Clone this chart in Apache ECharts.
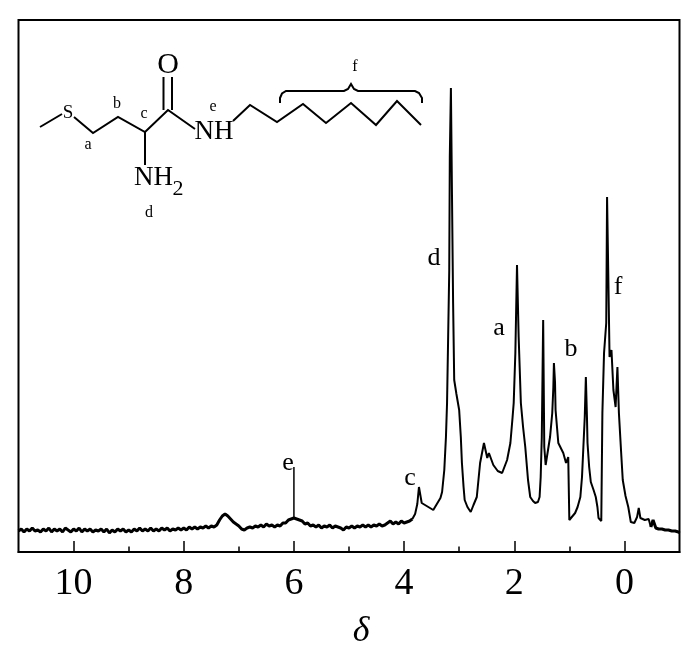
<!DOCTYPE html>
<html>
<head>
<meta charset="utf-8">
<style>
  html, body { margin: 0; padding: 0; background: #fff; }
  #chart { width: 700px; height: 647px; }
</style>
<script src="https://cdn.jsdelivr.net/npm/echarts@6/dist/echarts.min.js"></script>
</head>
<body>
<div id="chart"></div>
<script>
// tick values
var majorTicks = [0, 2, 4, 6, 8, 10]
var minorTicks = [1, 3, 5, 7, 9]

// noisy baseline, high field end of the scale comes later
var baselineShift = [
  11.00, 10.95, 10.90, 10.85, 10.80, 10.75, 10.70, 10.65, 10.60, 10.55,
  10.50, 10.45, 10.40, 10.35, 10.30, 10.25, 10.20, 10.15, 10.10, 10.05,
  10.00, 9.95, 9.90, 9.85, 9.80, 9.75, 9.70, 9.65, 9.60, 9.55,
  9.50, 9.45, 9.40, 9.35, 9.30, 9.25, 9.20, 9.15, 9.10, 9.05,
  9.00, 8.95, 8.90, 8.85, 8.80, 8.75, 8.70, 8.65, 8.60, 8.55,
  8.50, 8.45, 8.40, 8.35, 8.30, 8.25, 8.20, 8.15, 8.10, 8.05,
  8.00, 7.95, 7.90, 7.85, 7.80, 7.75, 7.70, 7.65, 7.60, 7.55,
  7.50, 7.45, 7.40, 7.35, 7.30, 7.25, 7.20, 7.15, 7.10, 7.05,
  7.00, 6.95, 6.90, 6.85, 6.80, 6.75, 6.70, 6.65, 6.60, 6.55,
  6.50, 6.45, 6.40, 6.35, 6.30, 6.25, 6.20, 6.15, 6.10, 6.05,
  6.00, 5.95, 5.90, 5.85, 5.80, 5.75, 5.70, 5.65, 5.60, 5.55, 5.50,
  5.45, 5.40, 5.35, 5.30, 5.25, 5.20, 5.15, 5.10, 5.05, 5.00,
  4.95, 4.90, 4.85, 4.80, 4.75, 4.70, 4.65, 4.60, 4.55, 4.50,
  4.45, 4.40, 4.35, 4.30, 4.25, 4.20, 4.15, 4.10, 4.05, 4.00, 3.95, 3.90, 3.85
]
var baselineInt = [
  21, 23, 20, 23, 21, 24, 21, 22, 20, 23,
  21, 24, 20, 23, 21, 23, 20, 24, 22, 20,
  23, 21, 24, 20, 23, 21, 23, 20, 22, 21,
  23, 20, 23, 19, 22, 20, 23, 21, 23, 20,
  22, 20, 23, 21, 24, 21, 23, 21, 24, 21,
  23, 21, 24, 22, 24, 21, 23, 22, 24, 22,
  24, 22, 25, 23, 25, 23, 25, 24, 26, 24,
  26, 25, 27, 32, 36, 38, 36, 33, 30, 28,
  26, 23, 22, 24, 25, 24, 26, 25, 27, 25,
  28, 26, 27, 25, 27, 26, 29, 29, 32, 33,
  34, 33, 32, 31, 28, 29, 26, 27, 25, 27, 24,
  26, 25, 27, 24, 26, 25, 24, 22, 25, 24,
  26, 24, 26, 25, 27, 25, 27, 25, 27, 26,
  28, 26, 27, 29, 31, 28, 30, 28, 31, 29, 30, 31, 33
]

// 峰 e 的尖峰
var spikeShift = [6.00, 6.00]
var spikeInt = [34, 85]

// peaks c, d, a, b, f
var peakShift = [
  3.85, 3.80, 3.76, 3.73, 3.68, 3.59, 3.47, 3.34, 3.31, 3.27, 3.24, 3.22, 3.20, 3.18, 3.17, 3.15,
  3.13, 3.11, 3.09, 3.05, 3.00, 2.97, 2.95, 2.92, 2.90, 2.85, 2.79, 2.74,
  2.68, 2.62, 2.55, 2.49, 2.46, 2.38, 2.30, 2.22, 2.13, 2.07, 2.03, 2.01, 1.98, 1.95,
  1.92, 1.88, 1.84, 1.80, 1.75, 1.71, 1.66, 1.62, 1.57, 1.54, 1.52, 1.50,
  1.475, 1.455, 1.43, 1.35, 1.31, 1.29, 1.28, 1.26, 1.25, 1.20, 1.11, 1.06, 1.02, 1.00, 0.895, 0.85,
  0.80, 0.77, 0.745, 0.72, 0.70, 0.68, 0.67, 0.64, 0.61, 0.56, 0.52, 0.49, 0.47, 0.42,
  0.40, 0.37, 0.33, 0.315, 0.295, 0.27, 0.235, 0.20, 0.16, 0.127, 0.10, 0.06, 0.03, -0.02, -0.07, -0.116,
  -0.18, -0.23, -0.26, -0.29, -0.37, -0.44, -0.48
]
var peakInt = [
  33, 38, 48, 65, 49, 46, 42, 54, 60, 82, 115, 149, 215, 282, 395, 464,
  355, 249, 172, 158, 142, 115, 89, 65, 52, 45, 40, 47,
  55, 89, 109, 94, 99, 87, 81, 79, 92, 109, 135, 149, 199, 287,
  215, 149, 125, 105, 72, 55, 51, 49, 50, 55, 75, 115,
  232, 105, 87, 115, 139, 165, 189, 170, 142, 109, 99, 89, 95, 32, 39, 45,
  55, 75, 105, 135, 175, 135, 109, 85, 70, 62, 55, 45, 34, 31,
  139, 199, 229, 355, 285, 195, 202, 162, 145, 185, 139, 100, 72, 56, 45, 30,
  29, 35, 44, 34, 32, 33, 25
]

// 尾部 噪声
var tailShift = [
  -0.48, -0.52, -0.57, -0.60, -0.62, -0.65, -0.68, -0.71, -0.74, -0.77,
  -0.80, -0.83, -0.86, -0.89, -0.92, -0.95, -0.98, -1.00
]
var tailInt = [
  25, 32, 24, 26, 23, 25, 23, 24, 22, 24,
  22, 23, 21, 23, 21, 22, 20, 19
]

function pairs(xs, ys) {
  return xs.map(function (s, i) {
    return [s, ys[i]]
  })
}

// 文字 / 结构式 都是图内标注
var serif = '"Liberation Serif", "Times New Roman", serif'

function bond(points) {
  return {
    type: "polyline",
    shape: { points: points },
    style: { stroke: "#000", lineWidth: 2, fill: null },
  }
}
function note(text, x, y, size, align) {
  return {
    type: "text",
    x: x,
    y: y,
    style: {
      text: text,
      fill: "#000",
      font: size + "px " + serif,
      textAlign: align || "center",
      textVerticalAlign: "middle",
    },
  }
}
function trace(data, width) {
  return {
    type: "line",
    data: data,
    showSymbol: false,
    lineStyle: { color: "#000", width: width },
  }
}

var annotations = [
  // 峰标记
  note("d", 434, 258, 26),
  note("a", 499, 328, 26),
  note("b", 571, 349, 26),
  note("f", 618, 287, 26),
  note("e", 288, 463, 26),
  note("c", 410, 478, 26),
  // 分子结构
  bond([[40, 127], [62, 114]]),
  bond([[74, 117], [93, 133], [118, 117], [145, 132], [168, 110], [195, 129]]),
  bond([[163.5, 110], [163.5, 77]]),
  bond([[172, 110], [172, 77]]),
  bond([[145, 132], [145, 165]]),
  bond([[233, 121], [250, 105], [277, 122], [303, 104], [326, 123], [351, 103], [376, 125], [397, 101], [421, 125]]),
  // 花括号
  bond([[280, 103], [280, 98], [282, 93.5], [286, 91], [344, 91], [348, 89], [351, 84], [354, 89], [358, 91], [415, 91], [419, 93], [422, 98], [422, 103]]),
  note("S", 68, 113, 19),
  note("O", 168, 65, 30),
  note("NH", 214, 132, 27),
  note("NH", 134, 178, 27, "left"),
  note("2", 178, 189, 22),
  note("a", 88, 145, 16),
  note("b", 117, 104, 16),
  note("c", 144, 114, 16),
  note("e", 213, 107, 16),
  note("f", 355, 67, 16),
  note("d", 149, 213, 16),
]

var myChart = echarts.init(document.getElementById("chart"))
var option = {
  animation: false,
  backgroundColor: "#fff",
  grid: {
    left: 18.5,
    right: 20.5,
    top: 20,
    bottom: 95,
    outerBoundsMode: "none",
    show: true,
    borderColor: "#000",
    borderWidth: 2,
  },
  xAxis: [
    {
      type: "value",
      inverse: true,
      min: -1,
      max: 11,
      name: "δ",
      nameLocation: "middle",
      nameGap: 62,
      nameTextStyle: { fontFamily: serif, fontStyle: "italic", fontSize: 36, color: "#000", padding: [0, 0, 0, 24] },
      splitLine: { show: false },
      axisLine: { lineStyle: { color: "#000", width: 2 } },
      axisTick: { inside: true, length: 11, customValues: majorTicks, lineStyle: { color: "#000", width: 1.5 } },
      axisLabel: { customValues: majorTicks, fontFamily: serif, fontSize: 38, color: "#000", margin: 13 },
    },
    {
      type: "value",
      inverse: true,
      min: -1,
      max: 11,
      position: "bottom",
      splitLine: { show: false },
      axisLine: { show: false },
      axisTick: { inside: true, length: 5.5, customValues: minorTicks, lineStyle: { color: "#000", width: 1.5 } },
      axisLabel: { show: false },
    },
  ],
  yAxis: {
    type: "value",
    min: 0,
    max: 532,
    show: false,
  },
  series: [
    trace(pairs(baselineShift, baselineInt), 3),
    trace(pairs(spikeShift, spikeInt), 1.5),
    trace(pairs(peakShift, peakInt), 2),
    trace(pairs(tailShift, tailInt), 3),
  ],
  graphic: { elements: annotations },
}
myChart.setOption(option)
</script>
</body>
</html>
